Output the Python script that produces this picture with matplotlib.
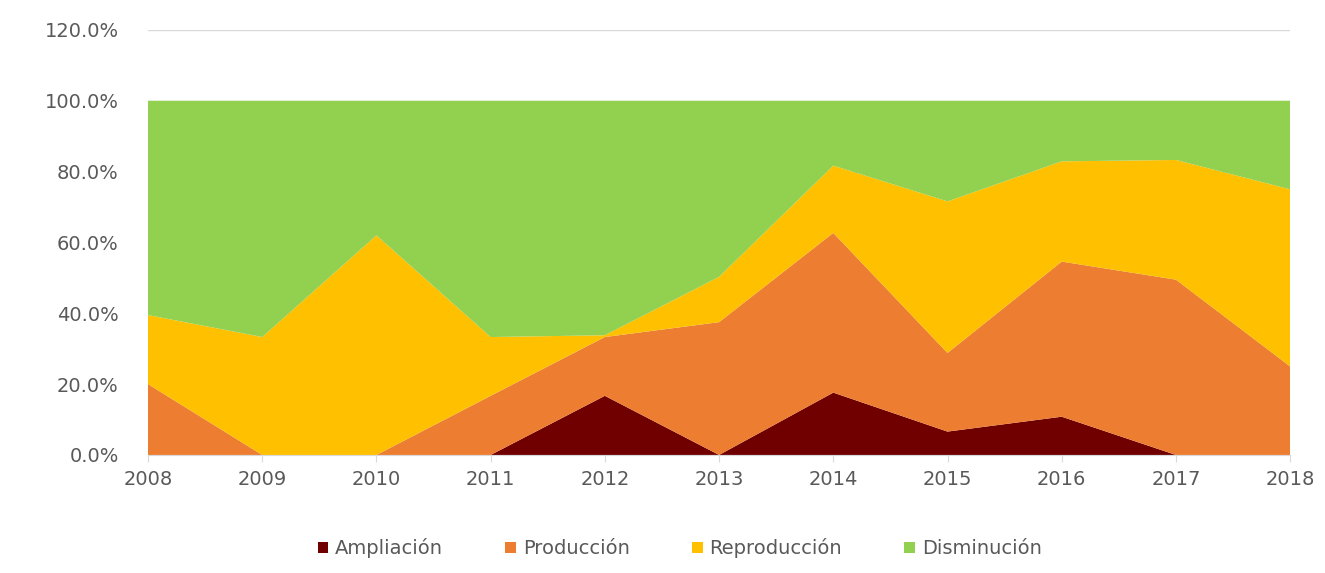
import matplotlib
matplotlib.use("Agg")
import matplotlib.pyplot as plt
import numpy as np
from matplotlib.ticker import FuncFormatter
from matplotlib.patches import Patch

years = [2008, 2009, 2010, 2011, 2012, 2013, 2014, 2015, 2016, 2017, 2018]
ampliacion   = [0.0, 0.0, 0.0, 0.0, 16.7, 0.0, 17.6, 6.6, 10.8, 0.0, 0.0]
produccion   = [20.0, 0.0, 0.0, 16.7, 16.6, 37.5, 45.1, 22.2, 43.8, 49.5, 25.0]
reproduccion = [19.5, 33.3, 62.0, 16.6, 0.5, 12.8, 19.0, 42.8, 28.3, 33.8, 50.0]
disminucion  = [60.5, 66.7, 38.0, 66.7, 66.2, 49.7, 18.3, 28.4, 17.1, 16.7, 25.0]

labels = ["Ampliación", "Producción", "Reproducción", "Disminución"]
colors = ["#700000", "#ED7D31", "#FFC000", "#92D050"]

plt.rcParams['font.family'] = ['DejaVu Sans']

fig = plt.figure(figsize=(13.25, 5.73), dpi=100)
ax = fig.add_axes([0.1117, 0.206, 0.862, 0.7417])

ax.stackplot(years, ampliacion, produccion, reproduccion, disminucion,
             colors=colors, linewidth=0, zorder=2)

ax.set_xlim(2008, 2018)
ax.set_ylim(0, 120)
ax.set_yticks(np.arange(0, 121, 20))
ax.yaxis.set_major_formatter(FuncFormatter(lambda v, p: f"{v:.1f}%"))
ax.set_xticks(years)
ax.set_xticklabels([str(y) for y in years])

ax.grid(axis='y', color='#D9D9D9', linewidth=1, zorder=0)
ax.set_axisbelow(True)
for s in ['top', 'right', 'left']:
    ax.spines[s].set_visible(False)
ax.spines['bottom'].set_color('#D9D9D9')
ax.tick_params(axis='y', length=0, labelsize=14, labelcolor='#595959', pad=21)
ax.tick_params(axis='x', length=5, color='#D9D9D9', labelsize=14, labelcolor='#595959', pad=6)

handles = [Patch(facecolor=c, label=l) for c, l in zip(colors, labels)]
fig.legend(handles=handles, loc='center', bbox_to_anchor=(0.513, 0.043), ncol=4,
           frameon=False, fontsize=14, handlelength=0.55, handleheight=0.55,
           handletextpad=0.35, columnspacing=3.2, labelcolor='#595959')

fig.savefig("out.png", dpi=100)
